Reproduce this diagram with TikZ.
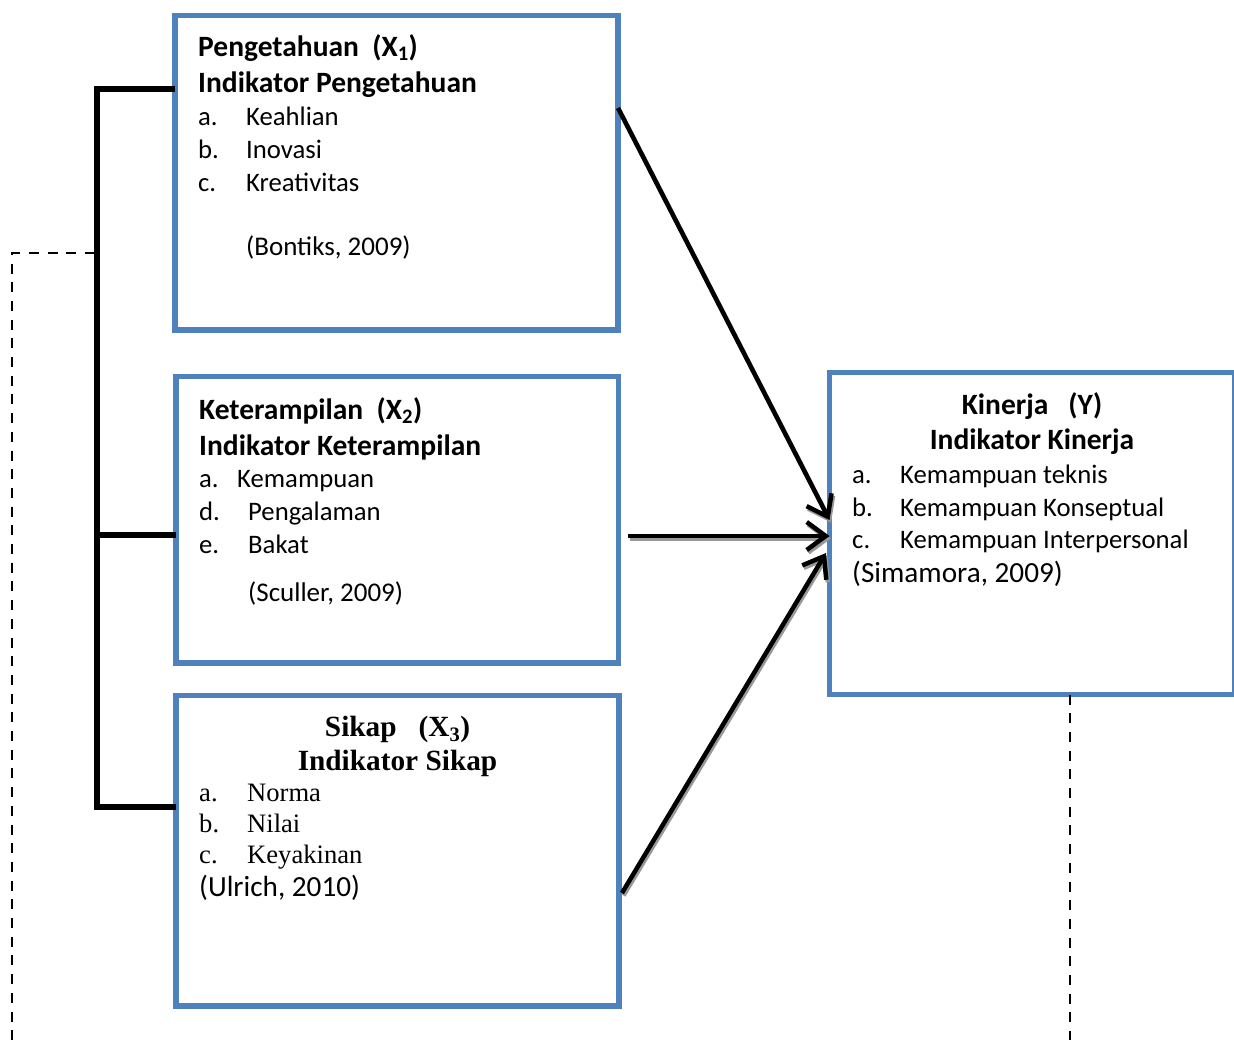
\documentclass[tikz,border=0pt]{standalone}
\usepackage{fontspec}
\setmainfont{Carlito}
\newfontfamily\timesfont{Liberation Serif}
\usetikzlibrary{arrows.meta}
\definecolor{biru}{HTML}{4F81BD}
\tikzstyle{kotak} = [rectangle, draw=biru, line width=5.5pt, outer sep=0pt, inner sep=0pt]
\tikzstyle{judul} = [anchor=base west, inner sep=0pt, font=\bfseries\fontsize{29.5}{31}\selectfont]
\tikzstyle{butir} = [anchor=base west, inner sep=0pt, font=\fontsize{26.7}{30}\selectfont]
\tikzstyle{sumber} = [anchor=base west, inner sep=0pt, font=\fontsize{27}{30}\selectfont]
\tikzstyle{arrow} = [line width=4.5pt, -{Straight Barb[length=19pt, width=28pt, line width=4.5pt]}]
\tikzstyle{bayang} = [arrow, draw=black!40, transform canvas={xshift=1.5pt, yshift=-2.5pt}]
\tikzstyle{kurung} = [line width=6pt]
\tikzstyle{garis} = [line width=2.8pt, dash pattern=on 10pt off 8.7pt]
\newcommand{\poin}[3][48pt]{\makebox[#1][l]{#2}#3}

\begin{document}
\begin{tikzpicture}[x=1pt, y=-1pt]
        \useasboundingbox (0,0) rectangle (1234,1039);

        % kotak variabel
        \node (pengetahuan) [kotak, minimum width=443pt, minimum height=314.5pt] at (396.5,172.75) {};
        \node (keterampilan) [kotak, minimum width=442.5pt, minimum height=286.5pt] at (397.25,519.75) {};
        \node (sikap) [kotak, minimum width=443pt, minimum height=310.5pt] at (397.5,850.75) {};
        \node (kinerja) [kotak, minimum width=405pt, minimum height=322pt] at (1032,533.5) {};

        % isi X1
        \node (p1) [judul] at (198,56) {Pengetahuan\ \ (X\textsubscript{1})};
        \node (p2) [judul] at (198,92) {Indikator Pengetahuan};
        \node (pa) [butir] at (198,125) {\poin{a.}{Keahlian}};
        \node (pb) [butir] at (198,158) {\poin{b.}{Inovasi}};
        \node (pc) [butir] at (198,191) {\poin{c.}{Kreativitas}};
        \node (pref) [sumber] at (246,255) {(Bontiks, 2009)};

        % isi X2
        \node (k1) [judul] at (199,419) {Keterampilan\ \ (X\textsubscript{2})};
        \node (k2) [judul] at (199,455) {Indikator Keterampilan};
        \node (ka) [butir] at (199,487) {\poin[38pt]{a.}{Kemampuan}};
        \node (kd) [butir] at (199,520) {\poin[49pt]{d.}{Pengalaman}};
        \node (ke) [butir] at (199,553) {\poin[49pt]{e.}{Bakat}};
        \node (kref) [sumber] at (248,601) {(Sculler, 2009)};

        % isi X3
        \node (s1) [judul, anchor=base, font=\timesfont\bfseries\fontsize{29.3}{32}\selectfont] at (397.5,736) {Sikap\ \ \ (X\textsubscript{3})};
        \node (s2) [judul, anchor=base, font=\timesfont\bfseries\fontsize{29.3}{32}\selectfont] at (397.5,770) {Indikator Sikap};
        \node (sa) [butir, font=\timesfont\fontsize{26.6}{30}\selectfont] at (199,801) {\poin{a.}{Norma}};
        \node (sb) [butir, font=\timesfont\fontsize{26.6}{30}\selectfont] at (199,832) {\poin{b.}{Nilai}};
        \node (sc) [butir, font=\timesfont\fontsize{26.6}{30}\selectfont] at (199,863) {\poin{c.}{Keyakinan}};
        \node (sref) [sumber, font=\fontsize{29.2}{31}\selectfont] at (199,896) {(Ulrich, 2010)};

        % isi Y
        \node (y1) [judul, anchor=base] at (1032,414) {Kinerja\ \ \ (Y)};
        \node (y2) [judul, anchor=base] at (1032,449) {Indikator Kinerja};
        \node (ya) [butir] at (852,483) {\poin{a.}{Kemampuan teknis}};
        \node (yb) [butir] at (852,516) {\poin{b.}{Kemampuan Konseptual}};
        \node (yc) [butir] at (852,548) {\poin{c.}{Kemampuan Interpersonal}};
        \node (yref) [sumber, font=\fontsize{29.2}{31}\selectfont] at (852,582) {(Simamora, 2009)};

        % kurung kiri
        \coordinate (b1) at (97,88.5);
        \coordinate (b2) at (97,535);
        \coordinate (b3) at (97,806.5);
        \draw [kurung] (b1 -| pengetahuan.west) -- (b1) -- (b3) -- (b3 -| sikap.west);
        \draw [kurung] (b2) -- (b2 -| keterampilan.west);

        % garis putus-putus
        \coordinate (d0) at (95,253);
        \coordinate (d1) at (12,1045);
        \coordinate (d2) at (1070,1045);
        \draw [garis] (d0) -| (d1);
        \draw [garis] (kinerja.south -| d2) -- (d2);

        % panah
        \draw [bayang] ([yshift=64.75pt]pengetahuan.east) -- ([yshift=13.5pt]kinerja.west);
        \draw [bayang] ([xshift=9.5pt, yshift=-16.25pt]keterampilan.east) -- ([yshift=-2.5pt]kinerja.west);
        \draw [bayang] ([xshift=3pt, yshift=-42.25pt]sikap.east) -- ([xshift=-3.5pt, yshift=-19.5pt]kinerja.west);
        \draw [arrow] ([yshift=64.75pt]pengetahuan.east) -- ([yshift=13.5pt]kinerja.west);
        \draw [arrow] ([xshift=9.5pt, yshift=-16.25pt]keterampilan.east) -- ([yshift=-2.5pt]kinerja.west);
        \draw [arrow] ([xshift=3pt, yshift=-42.25pt]sikap.east) -- ([xshift=-3.5pt, yshift=-19.5pt]kinerja.west);

\end{tikzpicture}
\end{document}
